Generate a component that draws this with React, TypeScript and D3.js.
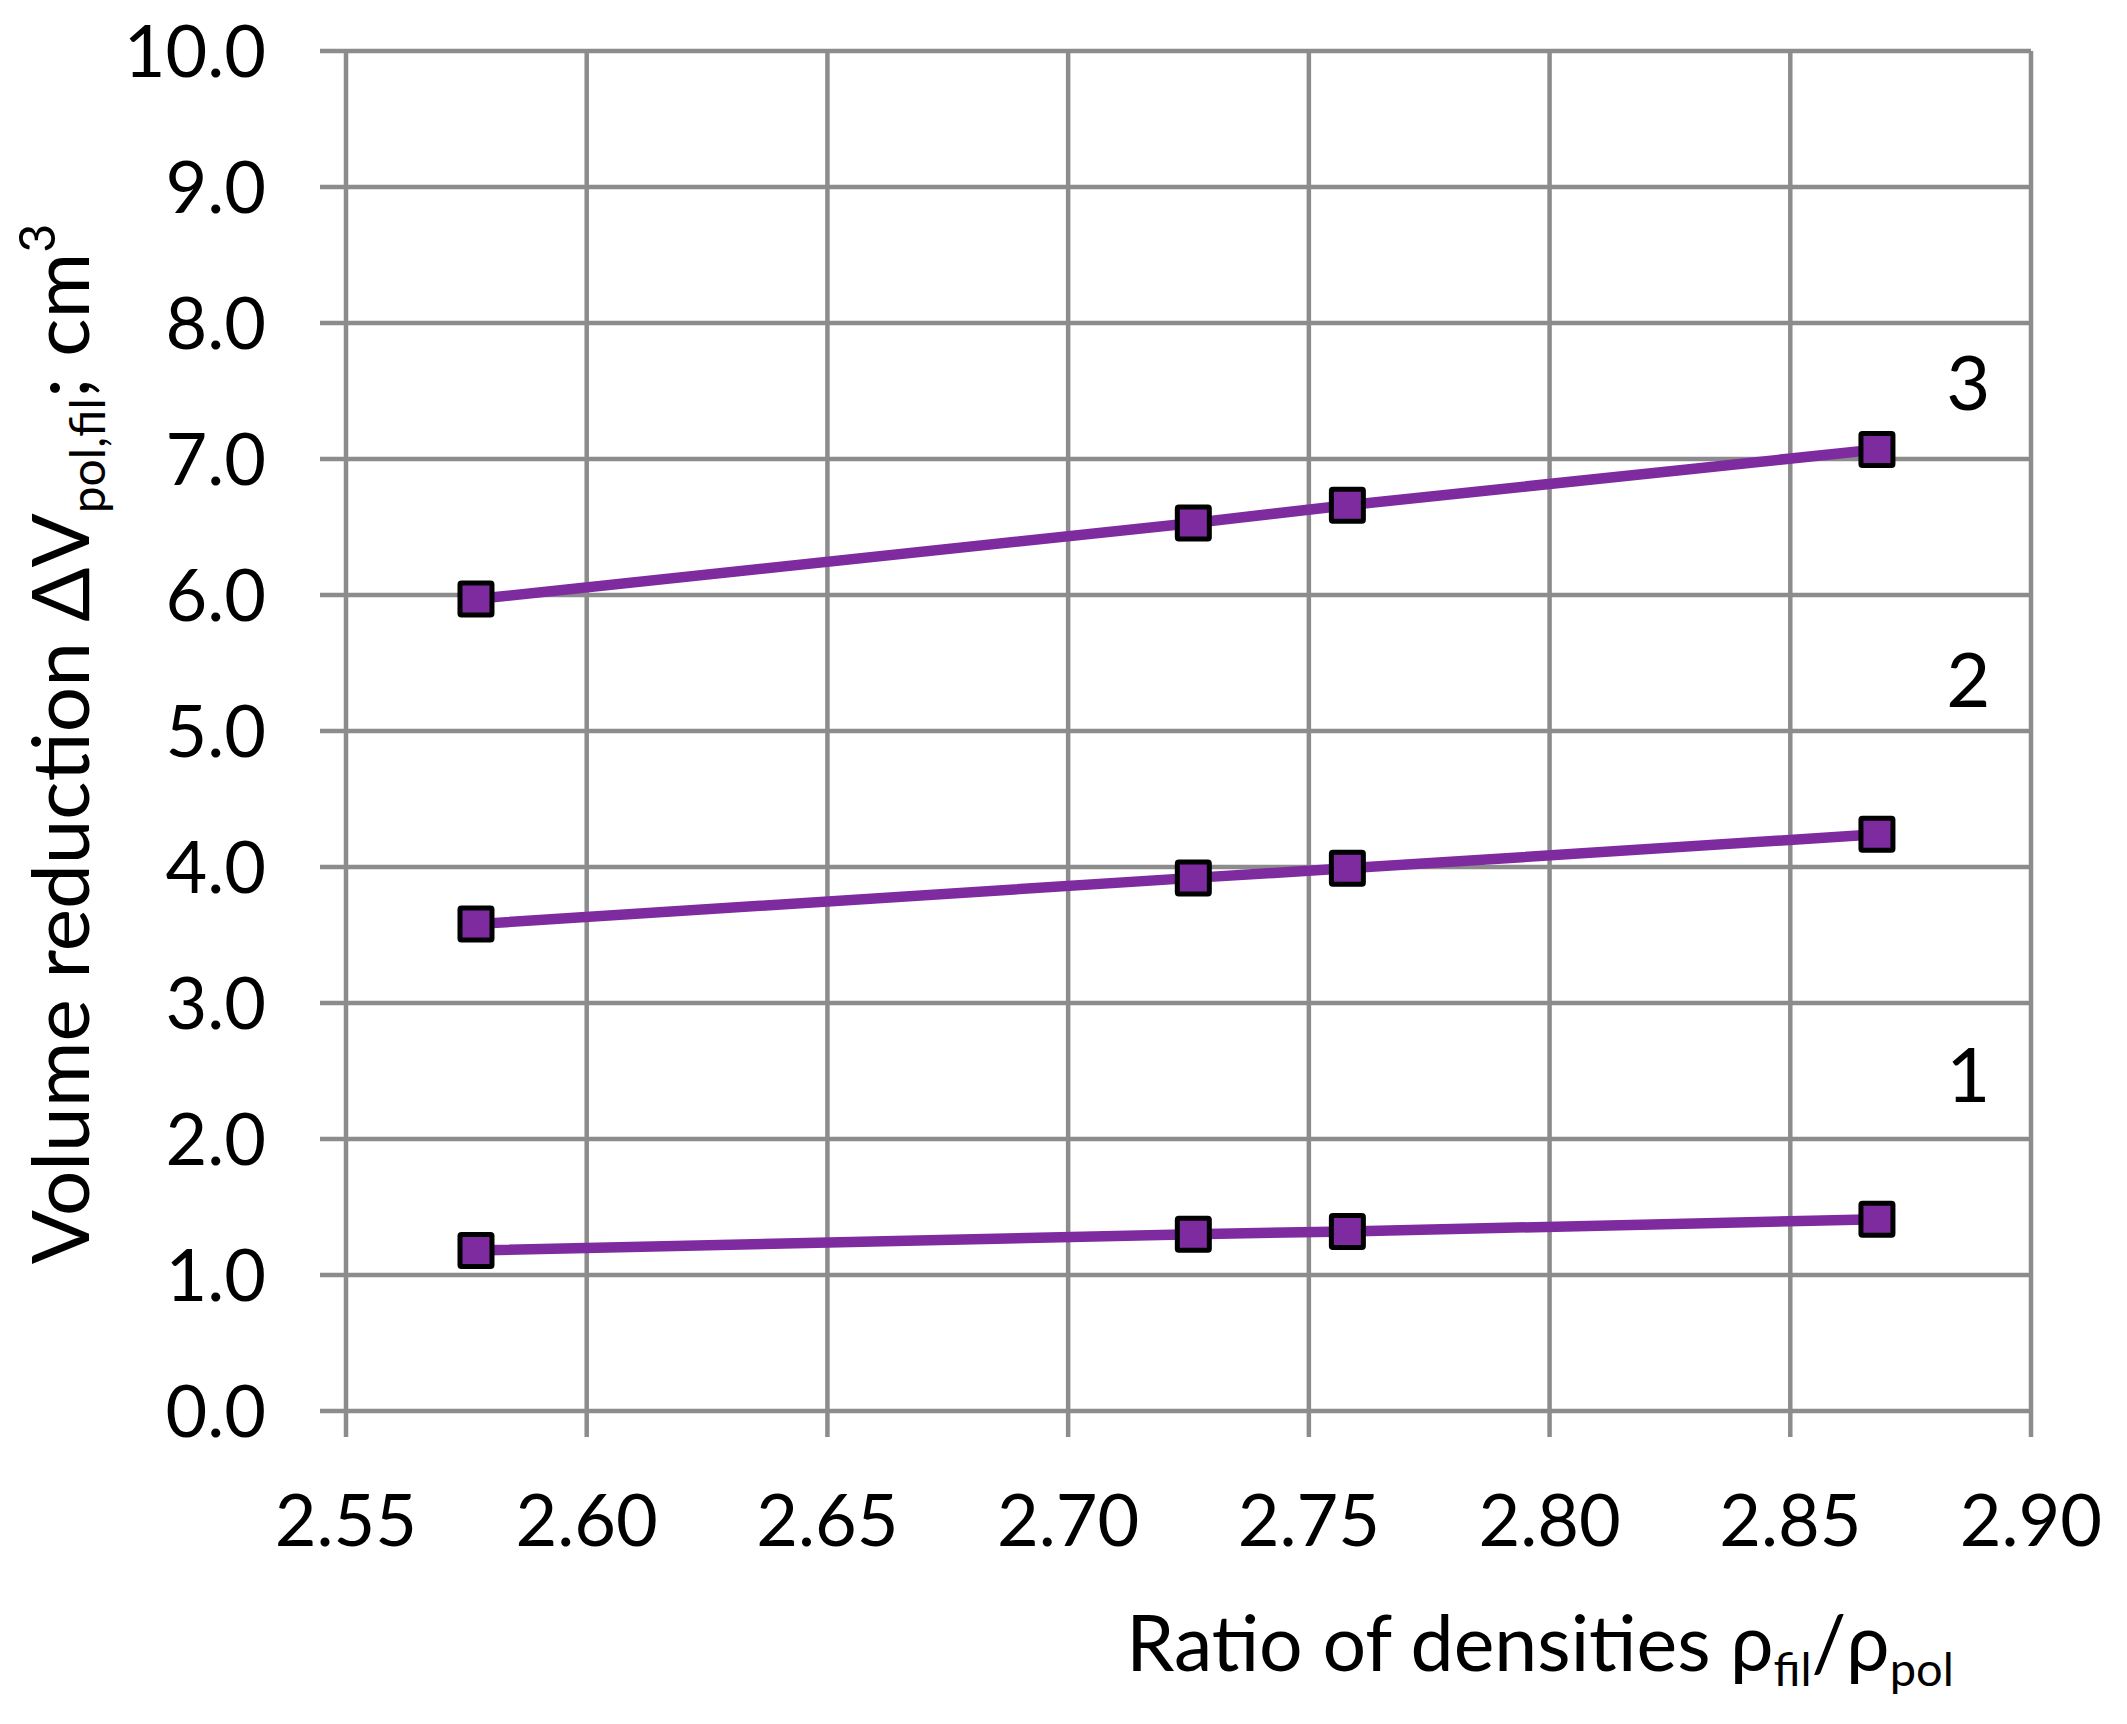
import React, { useEffect } from 'react';
import * as d3 from 'd3';

// density ratio rho_fil / rho_pol for each sample
const ratios = [2.577, 2.726, 2.758, 2.868];

// volume reduction, cm3, one array per curve
const curve1 = [1.18, 1.30, 1.32, 1.41];
const curve2 = [3.58, 3.92, 3.99, 4.24];
const curve3 = [5.97, 6.53, 6.66, 7.07];
const curveNames = ['1', '2', '3'];

const xTicks = [2.55, 2.6, 2.65, 2.7, 2.75, 2.8, 2.85, 2.9];
const yTicks = [0, 1, 2, 3, 4, 5, 6, 7, 8, 9, 10];

// where each curve number sits, in data units
const nameX = 2.887;
const nameY = [2.27, 5.18, 7.36];

const W = 2127;
const H = 1724;
const margin = { top: 51, right: 96, bottom: 313, left: 346 };
const FONT = 'Lato, "Open Sans", sans-serif';
const PURPLE = '#7e2ba0';
const GRID = '#8c8c8c';

export default function App() {
  useEffect(() => {
    document.body.style.margin = '0';
  }, []);

  const x = d3.scaleLinear().domain([2.55, 2.9]).range([margin.left, W - margin.right]);
  const y = d3.scaleLinear().domain([0, 10]).range([H - margin.bottom, margin.top]);

  const curves = [curve1, curve2, curve3];
  const line = d3
    .line<number>()
    .x((_, i) => x(ratios[i]))
    .y((d) => y(d));

  const top = y(10);
  const bottom = y(0);
  const left = x(2.55);
  const right = x(2.9);

  return (
    <svg width={W} height={H} style={{ display: 'block', background: '#fff' }} fontFamily={FONT}>
      {/* grid */}
      {yTicks.map((t) => (
        <line key={'h' + t} x1={left - 26} x2={right} y1={y(t)} y2={y(t)} stroke={GRID} strokeWidth={4.5} />
      ))}
      {xTicks.map((t) => (
        <line key={'v' + t} x1={x(t)} x2={x(t)} y1={top} y2={bottom + 26} stroke={GRID} strokeWidth={4.5} />
      ))}

      {/* tick labels */}
      {yTicks.map((t) => (
        <text key={'yl' + t} x={left - 80} y={y(t) + 26} textAnchor="end" fontSize={72} fill="#000">
          {d3.format('.1f')(t)}
        </text>
      ))}
      {xTicks.map((t) => (
        <text key={'xl' + t} x={x(t)} y={bottom + 135} textAnchor="middle" fontSize={72} fill="#000">
          {d3.format('.2f')(t)}
        </text>
      ))}

      {/* curves */}
      {curves.map((c, k) => (
        <path key={'c' + k} d={line(c) || ''} fill="none" stroke={PURPLE} strokeWidth={10.5} />
      ))}
      {curves.map((c, k) =>
        c.map((v, i) => (
          <rect
            key={'m' + k + '-' + i}
            x={x(ratios[i]) - 16}
            y={y(v) - 16}
            width={32}
            height={32}
            rx={1.5}
            fill={PURPLE}
            stroke="#000"
            strokeWidth={5}
          />
        ))
      )}
      {curveNames.map((n, k) => (
        <text key={'n' + n} x={x(nameX)} y={y(nameY[k])} textAnchor="middle" fontSize={76} fill="#000">
          {n}
        </text>
      ))}

      {/* axis titles */}
      <text x={1540} y={1671} textAnchor="middle" fontSize={77} fill="#000">
        Ratio of densities ρ
        <tspan fontSize={47} dy={15}>fil</tspan>
        <tspan dy={-15}>/ρ</tspan>
        <tspan fontSize={47} dy={15}>pol</tspan>
      </text>
      <text transform="translate(89,744) rotate(-90)" textAnchor="middle" fontSize={80} fill="#000">
        Volume reduction ΔV
        <tspan fontSize={48} dy={16}>pol,fil</tspan>
        <tspan dy={-16}>; cm</tspan>
        <tspan fontSize={50} dy={-34}>3</tspan>
      </text>
    </svg>
  );
}
